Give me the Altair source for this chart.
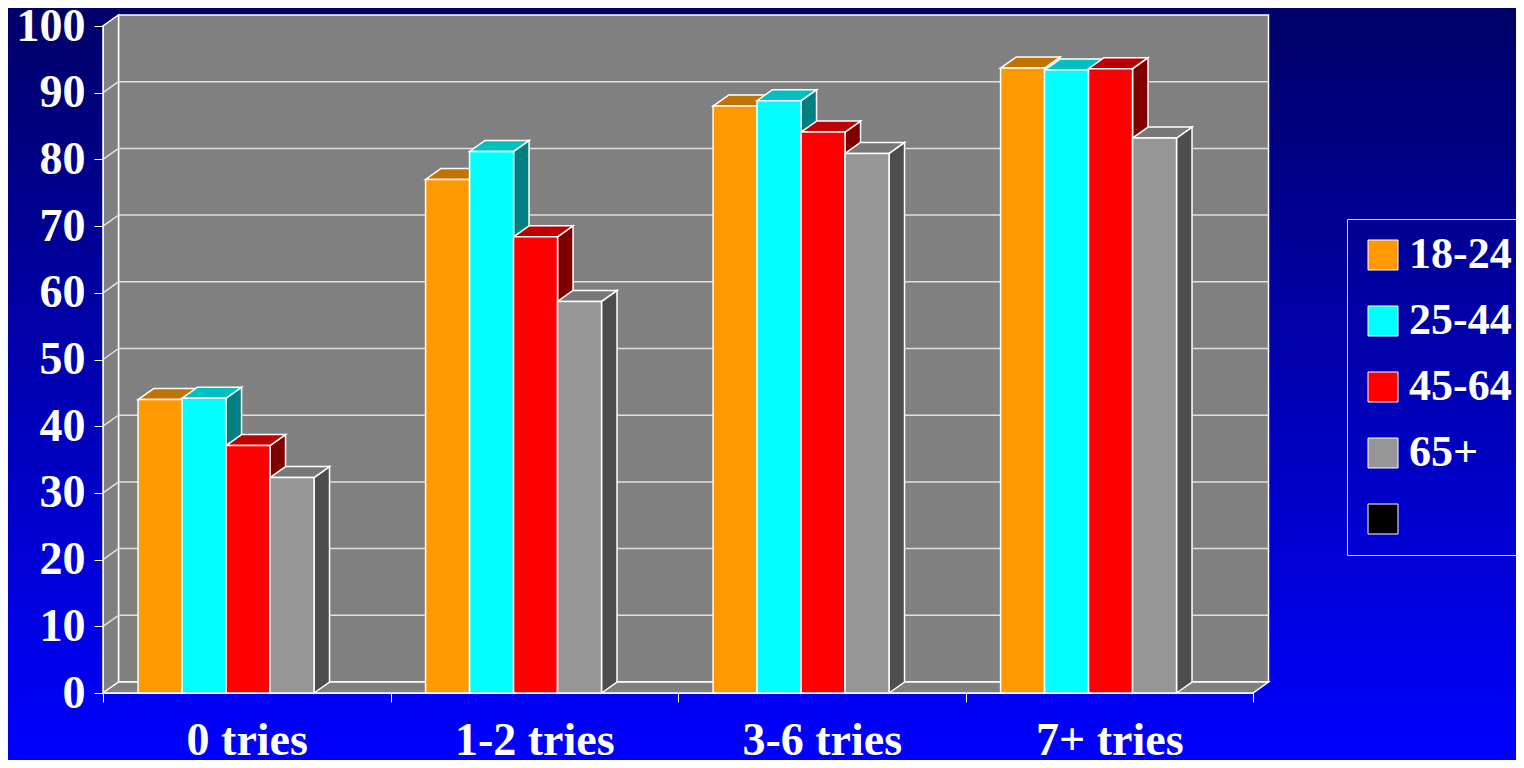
import json

import altair as alt
import pandas as pd

# values (percent)
categories = ["0 tries", "1-2 tries", "3-6 tries", "7+ tries"]
series = ["18-24", "25-44", "45-64", "65+"]
values = {
    "18-24": [44.0, 77.0, 88.0, 93.7],
    "25-44": [44.2, 81.2, 88.8, 93.4],
    "45-64": [37.1, 68.4, 84.1, 93.6],
    "65+": [32.3, 58.7, 80.9, 83.2],
}
y_ticks = [0, 10, 20, 30, 40, 50, 60, 70, 80, 90, 100]

front_colors = ["#FF9900", "#00FFFF", "#FF0000", "#969696"]
top_colors = ["#C07300", "#00C0C0", "#C00000", "#787878"]
side_colors = ["#804D00", "#008080", "#800000", "#4D4D4D"]

# layout of the fake 3d box, in data units
W, H = 1150, 667
PAD = {"left": 95, "top": 18, "right": 263, "bottom": 67}
DX = 15.5 / W * len(categories)   # depth shift to the right
DY = 11 / H * 100                 # depth shift upwards
BAR_START, BAR_W = 0.122, 0.153
WALL = "#808080"
FONT = "Liberation Serif"

fronts, sides, tops = [], [], []
for ci, cat in enumerate(categories):
    for si, s in enumerate(series):
        v = values[s][ci]
        x0 = ci + BAR_START + si * BAR_W
        x1 = x0 + BAR_W
        bid = f"{ci}-{si}"
        fronts.append(dict(bar=bid, series=s, category=cat, value=v, x0=x0, x1=x1))
        sides.append(dict(bar=bid, c=side_colors[si], x=x1, y=0, y2=v))
        sides.append(dict(bar=bid, c=side_colors[si], x=x1 + DX, y=DY, y2=v + DY))
        tops.append(dict(bar=bid, c=top_colors[si], y=v, x=x0, x2=x1))
        tops.append(dict(bar=bid, c=top_colors[si], y=v + DY, x=x0 + DX, x2=x1 + DX))

fronts = pd.DataFrame(fronts)
sides = pd.DataFrame(sides)
tops = pd.DataFrame(tops)

n = len(categories)
xs = alt.Scale(domain=[0, n], nice=False, zero=False)
ys = alt.Scale(domain=[0, 100], nice=False)

label_expr = ("datum.value % 1 == 0 ? '' : " + json.dumps(categories)
              + "[floor(datum.value)]")
x_axis = alt.Axis(
    values=[i / 2 for i in range(2 * n + 1)], labelExpr=label_expr, title=None,
    grid=False, domainColor="white", tickColor="white", tickSize=9,
    tickOpacity={"condition": {"test": "datum.value % 1 != 0", "value": 0}, "value": 1},
    labelColor="white", labelFont=FONT, labelFontWeight="bold", labelFontSize=46,
    labelPadding=16, labelFlush=False, labelOverlap=False, zindex=1,
)
y_axis = alt.Axis(
    values=y_ticks, title=None, grid=False, domainColor="white", tickColor="white",
    tickSize=9, labelColor="white", labelFont=FONT, labelFontWeight="bold",
    labelFontSize=46, labelPadding=9, zindex=1,
)

# slide background
bg = alt.Chart(pd.DataFrame({"a": [0]})).mark_rect(
    fill=alt.Gradient(gradient="linear", x1=0, x2=0, y1=0, y2=1,
                      stops=[alt.GradientStop(color="#000068", offset=0),
                             alt.GradientStop(color="#0000FF", offset=1)])
).encode(x=alt.value(-PAD["left"]), x2=alt.value(W + PAD["right"]),
         y=alt.value(-PAD["top"]), y2=alt.value(H + PAD["bottom"]))

# back wall, left wall and floor
back = alt.Chart(pd.DataFrame({"x": [DX], "x2": [n + DX], "y": [DY], "y2": [100 + DY]})).mark_rect(
    fill=WALL, stroke="white", strokeWidth=1.5
).encode(x=alt.X("x:Q", scale=xs, axis=x_axis), x2="x2:Q",
         y=alt.Y("y:Q", scale=ys, axis=y_axis), y2="y2:Q")

grid = alt.Chart(pd.DataFrame({"v": y_ticks[1:-1]})).transform_calculate(
    yb=f"datum.v + {DY}", xa=f"{DX}", xb=f"{n + DX}"
).mark_rule(color="#E0E0E0", strokeWidth=1.5).encode(
    x=alt.X("xa:Q", scale=xs), x2="xb:Q", y=alt.Y("yb:Q", scale=ys))

left_wall = alt.Chart(pd.DataFrame({"x": [0, DX], "y": [0, DY], "y2": [100, 100 + DY]})).mark_area(
    fill=WALL, stroke="white", strokeWidth=1.5
).encode(x=alt.X("x:Q", scale=xs), y=alt.Y("y:Q", scale=ys), y2="y2:Q")

left_grid = alt.Chart(pd.DataFrame({"v": y_ticks[1:-1]})).transform_calculate(
    yb=f"datum.v + {DY}", xa="0", xb=f"{DX}"
).mark_rule(color="#E0E0E0", strokeWidth=1.5).encode(
    x=alt.X("xa:Q", scale=xs), x2="xb:Q", y=alt.Y("v:Q", scale=ys), y2="yb:Q")

floor = alt.Chart(pd.DataFrame({"y": [0, DY], "x": [0, DX], "x2": [n, n + DX]})).mark_area(
    orient="horizontal", fill=WALL, stroke="white", strokeWidth=1.5
).encode(y=alt.Y("y:Q", scale=ys), x=alt.X("x:Q", scale=xs), x2="x2:Q")

# bars: side faces, top faces, then front faces
side_l = alt.Chart(sides).mark_area(stroke="white", strokeWidth=1.5).encode(
    x=alt.X("x:Q", scale=xs), y=alt.Y("y:Q", scale=ys), y2="y2:Q",
    fill=alt.Fill("c:N", scale=None, legend=None), detail="bar:N")

top_l = alt.Chart(tops).mark_area(orient="horizontal", stroke="white", strokeWidth=1.5).encode(
    y=alt.Y("y:Q", scale=ys), x=alt.X("x:Q", scale=xs), x2="x2:Q",
    fill=alt.Fill("c:N", scale=None, legend=None), detail="bar:N")

legend = alt.Legend(
    title=None, orient="none", legendX=1244, legendY=193, symbolType="square",
    symbolSize=900, symbolStrokeColor="white", symbolStrokeWidth=1, symbolOpacity=1,
    labelColor="white", labelFont=FONT, labelFontWeight="bold", labelFontSize=44,
    labelLimit=300, rowPadding=22, padding=14, strokeColor="#D8D8E8",
    labelOffset=4, zindex=1,
)
front_l = alt.Chart(fronts).mark_rect(stroke="white", strokeWidth=1.5).encode(
    x=alt.X("x0:Q", scale=xs), x2="x1:Q",
    y=alt.Y("value:Q", scale=ys), y2=alt.datum(0),
    color=alt.Color("series:N", legend=legend,
                    scale=alt.Scale(domain=series + [" "], range=front_colors + ["#000000"])),
    tooltip=["category", "series", "value"])

chart = alt.layer(
    bg, back, grid, left_wall, left_grid, floor, side_l, top_l, front_l
).resolve_scale(fill="independent", color="independent").properties(
    width=W, height=H, autosize=alt.AutoSizeParams(type="none"), padding=PAD,
).configure_view(strokeWidth=0)

chart.save("out.html", embed_options={"renderer": "svg", "actions": False})
